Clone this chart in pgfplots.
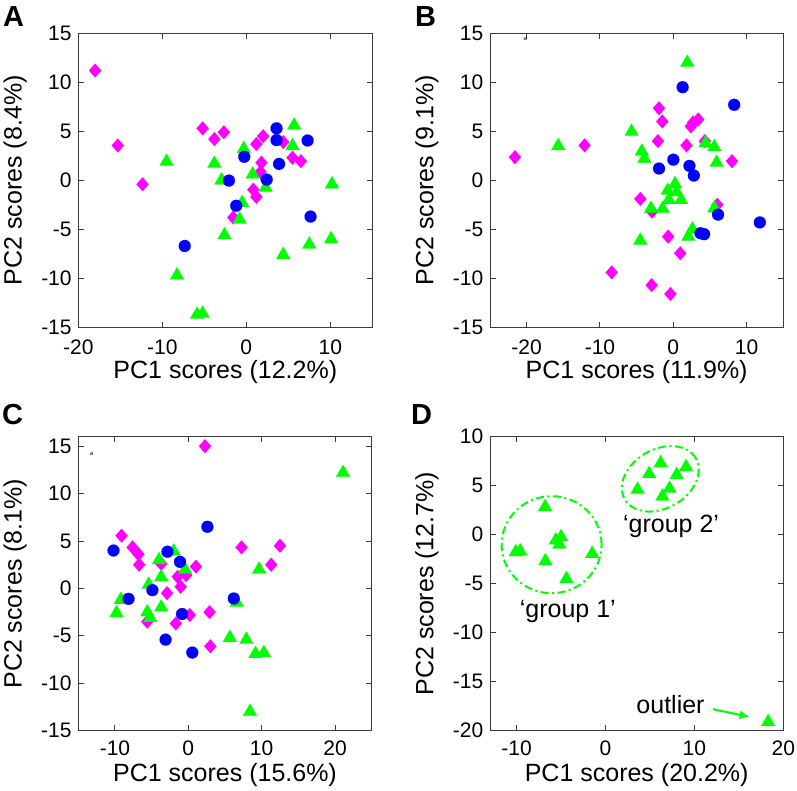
\documentclass[border=0pt]{standalone}
\usepackage{fontspec}
\setmainfont{Liberation Sans}
\usepackage{pgfplots}
\pgfplotsset{compat=1.18}
\usetikzlibrary{shapes.geometric,arrows.meta}
\definecolor{mg}{RGB}{255,0,255}
\definecolor{bl}{RGB}{0,0,255}
\definecolor{gr}{RGB}{0,255,0}
\definecolor{axc}{RGB}{60,60,60}
\newcommand{\labfont}{\fontsize{25bp}{25bp}\selectfont}
\pgfplotsset{
  pcastyle/.style={
    scale only axis,
    axis line style={axc, line width=1bp},
    tick style={axc, line width=1bp},
    tick align=inside, tick pos=both,
    major tick length=5.5bp,
    /pgf/number format/assume math mode=true,
    tick label style={font=\fontsize{21bp}{21bp}\selectfont, inner sep=0pt},
    xticklabel style={anchor=base, yshift=-27bp},
    yticklabel style={anchor=east, xshift=-6.5bp},
    label style={font=\labfont, inner sep=0pt},
    xlabel style={at={(axis description cs:0.5,0)}, anchor=base, yshift=-51bp},
    ylabel style={at={(axis description cs:-0.193,0.5)}, anchor=base},
    clip=false,
  },
  mgs/.style={only marks, color=mg, mark=diamond*, mark size=6.9bp, mark options={solid, draw=mg, fill=mg, line width=0.1bp, xscale=1.17}},
  grs/.style={only marks, color=gr, mark=triangle*, mark size=8bp, mark options={solid, draw=gr, fill=gr, line width=0.1bp}},
  bls/.style={only marks, color=bl, mark=*, mark size=6bp, mark options={solid, draw=bl, fill=bl, line width=0.1bp}},
}
\begin{document}
\begin{tikzpicture}
% ---------------- A ----------------
\begin{axis}[pcastyle, at={(78.3bp,463.7bp)}, anchor=south west,
  width=294bp, height=294bp,
  xmin=-20, xmax=15, ymin=-15, ymax=15,
  xtick={-20,-10,0,10}, ytick={-15,-10,-5,0,5,10,15},
  xlabel={PC1 scores (12.2\%)}, ylabel={PC2 scores (8.4\%)}]
\addplot[mgs] coordinates {(-18.0,11.2) (-15.3,3.55) (-12.35,-0.41) (-5.2,5.3) (-3.8,4.2) (-2.67,4.9) (-1.55,-3.8) (0.84,-0.96) (1.2,-1.7) (1.2,3.7) (2.0,4.5) (1.8,1.8) (1.7,0.85) (4.4,3.9) (5.5,2.3) (6.5,1.95)};
\addplot[grs] coordinates {(-9.5,1.9) (-8.25,-9.7) (-5.86,-13.7) (-5.2,-13.6) (-3.8,1.7) (-2.95,0.0) (-2.6,-5.6) (-0.8,-4.0) (-0.5,-2.3) (-0.3,3.2) (0.76,0.6) (2.3,-0.75) (4.4,-7.6) (5.5,3.5) (5.7,5.6) (7.5,-6.55) (10.1,-6.0) (10.2,-0.4)};
\addplot[bls] coordinates {(-7.33,-6.7) (-2.07,-0.03) (-1.2,-2.6) (-0.24,2.4) (2.43,0.07) (3.6,5.3) (3.6,4.1) (3.9,1.67) (7.3,4.06) (7.65,-3.7)};
\end{axis}
% ---------------- B ----------------
\begin{axis}[pcastyle, at={(490bp,463.7bp)}, anchor=south west,
  width=293.3bp, height=294bp,
  xmin=-25, xmax=15, ymin=-15, ymax=15,
  xtick={-20,-10,0,10}, ytick={-15,-10,-5,0,5,10,15},
  xlabel={PC1 scores (11.9\%)}, ylabel={PC2 scores (9.1\%)}]
\addplot[mgs] coordinates {(-21.6,2.36) (-12.1,3.56) (-8.4,-9.4) (-4.5,-1.9) (-2.95,-10.7) (-2.9,-3.2) (-2.1,4.0) (-1.95,7.35) (-1.5,6.0) (-0.7,-5.75) (-0.4,-11.6) (0.95,-7.45) (1.8,3.56) (2.4,5.5) (2.7,5.9) (3.4,6.2) (4.3,4.0) (6.0,-2.5) (8.0,1.95)};
\addplot[grs] coordinates {(-15.7,3.5) (-5.7,4.96) (-4.5,-6.15) (-4.3,2.94) (-3.95,2.2) (-3.05,-2.9) (-1.45,-2.9) (-0.77,-1.06) (-0.6,-2.0) (0.23,-0.38) (0.45,-1.2) (1.05,-2.0) (1.9,12.0) (2.05,-5.75) (2.6,-5.0) (4.4,3.8) (5.6,3.4) (5.6,-2.85) (5.9,1.8)};
\addplot[bls] coordinates {(-1.95,1.2) (0,2.1) (1.27,9.5) (2.2,1.47) (2.8,0.48) (3.7,-5.4) (4.2,-5.5) (6.1,-3.5) (8.3,7.7) (11.8,-4.3)};
\node[font=\itshape\fontsize{6bp}{6bp}\selectfont] at (axis cs:-20.2,14.4) {a};
\end{axis}
% ---------------- C ----------------
\begin{axis}[pcastyle, at={(78.3bp,60.3bp)}, anchor=south west,
  width=293.4bp, height=294bp,
  xmin=-15, xmax=25, ymin=-15, ymax=16,
  xticklabel style={yshift=2bp},
  xtick={-10,0,10,20}, ytick={-15,-10,-5,0,5,10,15},
  xlabel={PC1 scores (15.6\%)}, ylabel={PC2 scores (8.1\%)}]
\addplot[mgs] coordinates {(2.27,15.0) (-9.1,5.56) (-7.6,4.33) (-6.8,3.6) (-6.7,2.5) (-3.7,2.6) (-2.9,-0.5) (-1.7,-3.7) (-1.45,1.23) (-1.04,0.18) (-0.3,1.4) (0.2,-2.8) (1.04,2.3) (2.9,-2.5) (3.0,-6.1) (7.25,4.33) (11.3,2.5) (12.5,4.5) (-5.6,-3.5)};
\addplot[grs] coordinates {(-9.8,-2.6) (-9.2,-1.2) (-5.6,-2.5) (-5.2,-3.1) (-5.4,0.4) (-4.0,3.0) (-3.7,1.2) (-3.7,-2.0) (-2.0,3.9) (-0.45,2.0) (6.6,-1.5) (5.66,-5.2) (7.9,-5.4) (9.15,-6.9) (10.3,-6.8) (9.65,2.0) (21.1,12.2) (8.4,-13.0)};
\addplot[bls] coordinates {(-10.2,4.0) (-8.15,-1.1) (-4.9,-0.18) (-3.1,-5.4) (-2.85,3.87) (-1.13,2.8) (-0.86,-2.7) (0.54,-6.76) (2.6,6.5) (6.2,-1.06)};
\node[font=\itshape\fontsize{6bp}{6bp}\selectfont] at (axis cs:-13.2,14.2) {a};
\end{axis}
% ---------------- D ----------------
\begin{axis}[pcastyle, at={(490bp,60.3bp)}, anchor=south west,
  width=293.3bp, height=294bp,
  xmin=-13, xmax=20, ymin=-20, ymax=10,
  xticklabel style={yshift=2bp},
  xtick={-10,0,10,20}, ytick={-20,-15,-10,-5,0,5,10},
  xlabel={PC1 scores (20.2\%)}, ylabel={PC2 scores (12.7\%)}]
\addplot[grs] coordinates {(-10.1,-1.77) (-9.6,-1.67) (-6.8,2.83) (-6.77,-2.7) (-5.6,-0.58) (-5.0,-0.24) (-5.2,-1.0) (-4.4,-4.5) (-1.5,-1.95)
 (3.6,4.6) (4.9,6.2) (6.2,7.3) (6.4,3.9) (7.2,4.7) (8.0,6.1) (9.05,6.9) (18.3,-19.1)};
\node[ellipse, draw=gr, line width=2bp, dash pattern=on 8bp off 3.5bp on 2bp off 3.5bp,
  minimum width=100bp, minimum height=97bp, inner sep=0pt] at (axis cs:-6.07,-1.02) {};
\node[ellipse, draw=gr, line width=2bp, dash pattern=on 8bp off 3.5bp on 2bp off 3.5bp,
  minimum width=82bp, minimum height=59bp, inner sep=0pt, rotate=30] at (axis cs:6.16,5.7) {};
\node[anchor=base, font=\labfont, inner sep=0pt] at (axis cs:-4.24,-8.47) {‘group 1’};
\node[anchor=base, font=\labfont, inner sep=0pt] at (axis cs:7.37,0.2) {‘group 2’};
\node[anchor=base, font=\labfont, inner sep=0pt] at (axis cs:7.31,-18.2) {outlier};
\draw[gr, line width=2bp, -{Latex[length=10bp,width=9bp]}] (axis cs:12.09,-17.8) -- (axis cs:16.2,-18.6);
\end{axis}
% panel letters
\node[anchor=base west, inner sep=0pt, font=\bfseries\fontsize{29bp}{29bp}\selectfont] at (3bp,764.5bp) {A};
\node[anchor=base west, inner sep=0pt, font=\bfseries\fontsize{29bp}{29bp}\selectfont] at (415bp,764.5bp) {B};
\node[anchor=base west, inner sep=0pt, font=\bfseries\fontsize{29bp}{29bp}\selectfont] at (2bp,366bp) {C};
\node[anchor=base west, inner sep=0pt, font=\bfseries\fontsize{29bp}{29bp}\selectfont] at (411bp,366bp) {D};
\pgfresetboundingbox
\useasboundingbox (0,0) rectangle (797bp,791bp);
\end{tikzpicture}
\end{document}
